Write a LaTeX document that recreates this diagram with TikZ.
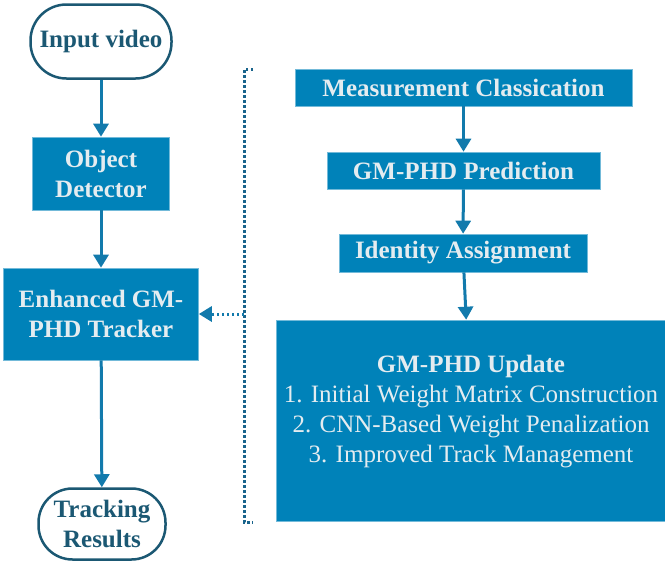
\documentclass[tikz,border=0pt]{standalone}
\usepackage{fontspec}
\setmainfont{Liberation Serif}
\usetikzlibrary{arrows.meta}
\definecolor{boxblue}{RGB}{0,130,185}
\definecolor{boxtext}{RGB}{228,236,240}
\definecolor{darkteal}{RGB}{27,88,115}
\definecolor{arrowblue}{RGB}{18,122,172}
\definecolor{dotblue}{RGB}{25,100,140}
\begin{document}
\begin{tikzpicture}[x=1pt,y=-1pt,
  bluebox/.style={fill=boxblue, text=boxtext, font=\fontsize{25}{30}\selectfont\bfseries,
    inner sep=0pt, align=center, draw=boxblue!55!white, line width=0.6pt},
  term/.style={draw=darkteal, line width=2.5pt, rounded corners=36pt, text=darkteal,
    font=\fontsize{25}{30}\selectfont\bfseries, align=center, inner sep=0pt, fill=white},
  flow/.style={arrowblue, line width=3pt, -{Triangle[width=15pt,length=13pt]}},
  fb/.style={dotblue, line width=3pt, dash pattern=on 2.5pt off 2.5pt},
  fbarrow/.style={arrowblue, line width=3pt, dash pattern=on 2.5pt off 2.5pt, -{Triangle[width=15pt,length=13pt]}}]
\useasboundingbox (0,0) rectangle (665,563);
% left column
\node[term, minimum width=141pt, minimum height=74pt] (inp) at (101,41.5) {Input video};
\node[bluebox, minimum width=137pt, minimum height=73pt] (obj) at (101,173.5) {Object\\Detector};
\node[bluebox, minimum width=195pt, minimum height=92pt] (enh) at (101,314) {Enhanced GM-\\PHD Tracker};
\node[term, rounded corners=34pt, minimum width=127pt, minimum height=71pt] (trk) at (102,524) {Tracking\\Results};
% right column
\node[bluebox, minimum width=337pt, minimum height=37pt] (meas) at (463.5,87.5) {Measurement Classication};
\node[bluebox, minimum width=273pt, minimum height=37pt] (pred) at (463.5,170.5) {GM-PHD Prediction};
\node[bluebox, minimum width=248pt, minimum height=38pt] (ident) at (463,253) {Identity Assignment};
\node[bluebox, minimum width=390pt, minimum height=201pt] (upd) at (471,420.5) {};
\node[text=boxtext, align=center, inner sep=0pt, font=\fontsize{25}{30}\selectfont] (updtxt) at (471,411.5)
  {\textbf{GM-PHD Update}\\1. Initial Weight Matrix Construction\\2. CNN-Based Weight Penalization\\3. Improved Track Management};
% arrows
\draw[flow] (inp) -- (obj);
\draw[flow] (obj) -- (enh);
\draw[flow] (enh) -- (trk);
\draw[flow] (meas) -- (pred);
\draw[flow] (pred) -- (ident);
\draw[flow] (ident) -- (upd);
% dotted bracket
\coordinate (bt) at (253,69);
\coordinate (tl) at (244,69);
\coordinate (bl) at (244,522);
\coordinate (br) at (253,522);
\coordinate (mid) at (244,314);
\draw[fb] (bt) -- (tl) -- (bl) -- (br);
\draw[fbarrow] (mid) -- (enh.east);
\end{tikzpicture}
\end{document}
